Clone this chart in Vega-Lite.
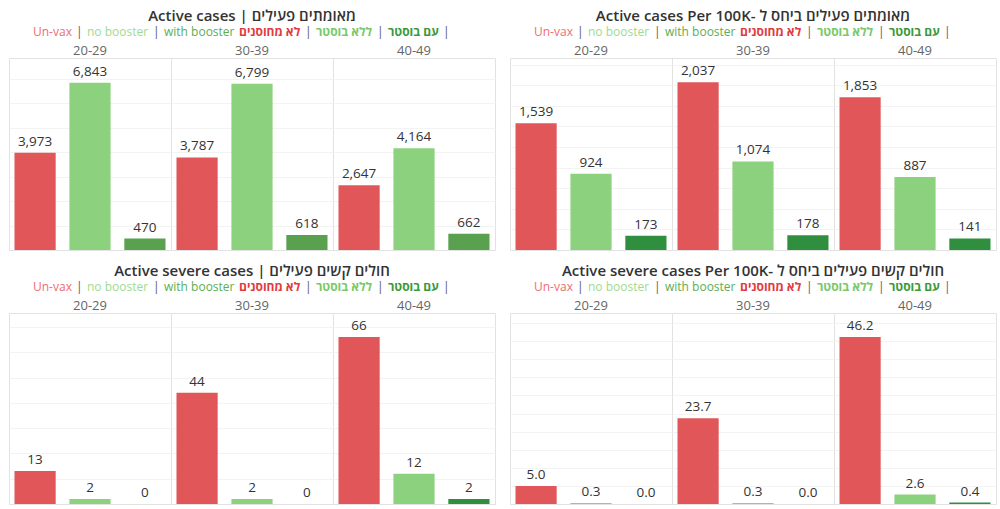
{
  "$schema": "https://vega.github.io/schema/vega-lite/v6.json",
  "padding": {"left": 8, "top": 2, "right": 4, "bottom": 2},
  "background": "white",
  "config": {
    "font": "Open Sans, DejaVu Sans",
    "view": {"stroke": "#e2e2e2", "strokeWidth": 1},
    "facet": {"spacing": 0},
    "axis": {"minExtent": 0, "maxExtent": 0},
    "title": {"fontSize": 15, "fontWeight": 600, "color": "#333333", "offset": -22, "anchor": "middle"},
    "header": {"labelFontSize": 13, "labelColor": "#666666", "labelPadding": 0},
    "legend": {
      "orient": "top", "direction": "horizontal", "title": null, "gridAlign": "none",
      "symbolSize": 0, "symbolStrokeWidth": 0, "symbolOpacity": 0,
      "labelOffset": -12, "columnPadding": 4, "labelFontSize": 12, "padding": 24, "offset": -17,
      "labelLimit": 300
    }
  },
  "datasets": {
    "cases": [
      {"age": "20-29", "cat": "Un-vax", "v": 3973}, {"age": "20-29", "cat": "no booster", "v": 6843}, {"age": "20-29", "cat": "with booster", "v": 470},
      {"age": "30-39", "cat": "Un-vax", "v": 3787}, {"age": "30-39", "cat": "no booster", "v": 6799}, {"age": "30-39", "cat": "with booster", "v": 618},
      {"age": "40-49", "cat": "Un-vax", "v": 2647}, {"age": "40-49", "cat": "no booster", "v": 4164}, {"age": "40-49", "cat": "with booster", "v": 662}
    ],
    "cases100k": [
      {"age": "20-29", "cat": "Un-vax", "v": 1539}, {"age": "20-29", "cat": "no booster", "v": 924}, {"age": "20-29", "cat": "with booster", "v": 173},
      {"age": "30-39", "cat": "Un-vax", "v": 2037}, {"age": "30-39", "cat": "no booster", "v": 1074}, {"age": "30-39", "cat": "with booster", "v": 178},
      {"age": "40-49", "cat": "Un-vax", "v": 1853}, {"age": "40-49", "cat": "no booster", "v": 887}, {"age": "40-49", "cat": "with booster", "v": 141}
    ],
    "severe": [
      {"age": "20-29", "cat": "Un-vax", "v": 13}, {"age": "20-29", "cat": "no booster", "v": 2}, {"age": "20-29", "cat": "with booster", "v": 0},
      {"age": "30-39", "cat": "Un-vax", "v": 44}, {"age": "30-39", "cat": "no booster", "v": 2}, {"age": "30-39", "cat": "with booster", "v": 0},
      {"age": "40-49", "cat": "Un-vax", "v": 66}, {"age": "40-49", "cat": "no booster", "v": 12}, {"age": "40-49", "cat": "with booster", "v": 2}
    ],
    "severe100k": [
      {"age": "20-29", "cat": "Un-vax", "v": 5.0}, {"age": "20-29", "cat": "no booster", "v": 0.3}, {"age": "20-29", "cat": "with booster", "v": 0.0},
      {"age": "30-39", "cat": "Un-vax", "v": 23.7}, {"age": "30-39", "cat": "no booster", "v": 0.3}, {"age": "30-39", "cat": "with booster", "v": 0.0},
      {"age": "40-49", "cat": "Un-vax", "v": 46.2}, {"age": "40-49", "cat": "no booster", "v": 2.6}, {"age": "40-49", "cat": "with booster", "v": 0.4}
    ]
  },
  "spacing": 6,
  "resolve": {"scale": {"color": "independent", "y": "independent"}, "legend": {"color": "independent"}},
  "vconcat": [
    {
      "spacing": 13,
      "resolve": {"scale": {"color": "independent", "y": "independent"}, "legend": {"color": "independent"}},
      "hconcat": [
        {
          "title": {"text": "Active cases | מאומתים פעילים"},
          "data": {"name": "cases"},
          "facet": {"column": {"field": "age", "type": "ordinal", "header": {"title": null, "labelOrient": "top"}}},
          "spacing": 0, "bounds": "flush",
          "spec": {
            "width": 162, "height": 192,
            "encoding": {
              "x": {"field": "cat", "type": "nominal", "axis": null, "sort": ["Un-vax", "no booster", "with booster"], "scale": {"paddingInner": 0.25, "paddingOuter": 0.1}},
              "y": {"field": "v", "type": "quantitative", "scale": {"domain": [0, 7850], "nice": false}, "axis": {"title": null, "labels": false, "ticks": false, "domain": false, "gridColor": "#f3f3f3", "values": [1000, 2000, 3000, 4000, 5000, 6000, 7000]}}
            },
            "layer": [
              {"mark": {"type": "bar"},
               "encoding": {"color": {"field": "cat", "type": "nominal",
                 "scale": {"domain": ["Un-vax", "s1", "no booster", "s2", "with booster", "לא מחוסנים", "s3", "ללא בוסטר", "s4", "עם בוסטר", "s5"],
                           "range": ["#e15759", "#555555", "#8cd17d", "#555555", "#59a14f", "#e15759", "#555555", "#8cd17d", "#555555", "#3d9a3d", "#555555"]},
                 "legend": {"labelExpr": "test(/^s[0-9]$/, datum.label) ? '|' : datum.label",
                   "encode": {"labels": {"update": {
                     "fill": {"signal": "datum.value === 'Un-vax' ? '#ec6e72' : datum.value === 'no booster' ? '#9edb8f' : datum.value === 'with booster' ? '#5cae52' : datum.value === 'לא מחוסנים' ? '#e03c40' : datum.value === 'ללא בוסטר' ? '#78c96a' : datum.value === 'עם בוסטר' ? '#3a9a3a' : '#555555'"},
                     "fontWeight": {"signal": "test(/[א-ת]/, datum.value) ? 'bold' : 'normal'"}}}}}}}},
              {"mark": {"type": "text", "baseline": "bottom", "dy": -4, "fontSize": 13.5, "color": "#333333"},
               "encoding": {"text": {"field": "v", "type": "quantitative", "format": ","}}}
            ]
          }
        },
        {
          "title": {"text": "Active cases Per 100K- מאומתים פעילים ביחס ל"},
          "data": {"name": "cases100k"},
          "facet": {"column": {"field": "age", "type": "ordinal", "header": {"title": null, "labelOrient": "top"}}},
          "spacing": 0, "bounds": "flush",
          "spec": {
            "width": 162, "height": 192,
            "encoding": {
              "x": {"field": "cat", "type": "nominal", "axis": null, "sort": ["Un-vax", "no booster", "with booster"], "scale": {"paddingInner": 0.25, "paddingOuter": 0.1}},
              "y": {"field": "v", "type": "quantitative", "scale": {"domain": [0, 2330], "nice": false}, "axis": {"title": null, "labels": false, "ticks": false, "domain": false, "gridColor": "#f3f3f3", "values": [250, 500, 750, 1000, 1250, 1500, 1750, 2000, 2250]}}
            },
            "layer": [
              {"mark": {"type": "bar"},
               "encoding": {"color": {"field": "cat", "type": "nominal",
                 "scale": {"domain": ["Un-vax", "s1", "no booster", "s2", "with booster", "לא מחוסנים", "s3", "ללא בוסטר", "s4", "עם בוסטר", "s5"],
                           "range": ["#e15759", "#555555", "#8cd17d", "#555555", "#2f8f3e", "#e15759", "#555555", "#8cd17d", "#555555", "#3d9a3d", "#555555"]},
                 "legend": {"labelExpr": "test(/^s[0-9]$/, datum.label) ? '|' : datum.label",
                   "encode": {"labels": {"update": {
                     "fill": {"signal": "datum.value === 'Un-vax' ? '#ec6e72' : datum.value === 'no booster' ? '#9edb8f' : datum.value === 'with booster' ? '#5cae52' : datum.value === 'לא מחוסנים' ? '#e03c40' : datum.value === 'ללא בוסטר' ? '#78c96a' : datum.value === 'עם בוסטר' ? '#3a9a3a' : '#555555'"},
                     "fontWeight": {"signal": "test(/[א-ת]/, datum.value) ? 'bold' : 'normal'"}}}}}}}},
              {"mark": {"type": "text", "baseline": "bottom", "dy": -4, "fontSize": 13.5, "color": "#333333"},
               "encoding": {"text": {"field": "v", "type": "quantitative", "format": ","}}}
            ]
          }
        }
      ]
    },
    {
      "spacing": 13,
      "resolve": {"scale": {"color": "independent", "y": "independent"}, "legend": {"color": "independent"}},
      "hconcat": [
        {
          "title": {"text": "Active severe cases | חולים קשים פעילים"},
          "data": {"name": "severe"},
          "facet": {"column": {"field": "age", "type": "ordinal", "header": {"title": null, "labelOrient": "top"}}},
          "spacing": 0, "bounds": "flush",
          "spec": {
            "width": 162, "height": 191,
            "encoding": {
              "x": {"field": "cat", "type": "nominal", "axis": null, "sort": ["Un-vax", "no booster", "with booster"], "scale": {"paddingInner": 0.25, "paddingOuter": 0.1}},
              "y": {"field": "v", "type": "quantitative", "scale": {"domain": [0, 75.5], "nice": false}, "axis": {"title": null, "labels": false, "ticks": false, "domain": false, "gridColor": "#f3f3f3", "values": [10, 20, 30, 40, 50, 60, 70]}}
            },
            "layer": [
              {"mark": {"type": "bar"},
               "encoding": {"color": {"field": "cat", "type": "nominal",
                 "scale": {"domain": ["Un-vax", "s1", "no booster", "s2", "with booster", "לא מחוסנים", "s3", "ללא בוסטר", "s4", "עם בוסטר", "s5"],
                           "range": ["#e15759", "#555555", "#8cd17d", "#555555", "#2f8f3e", "#e15759", "#555555", "#8cd17d", "#555555", "#3d9a3d", "#555555"]},
                 "legend": {"labelExpr": "test(/^s[0-9]$/, datum.label) ? '|' : datum.label",
                   "encode": {"labels": {"update": {
                     "fill": {"signal": "datum.value === 'Un-vax' ? '#ec6e72' : datum.value === 'no booster' ? '#9edb8f' : datum.value === 'with booster' ? '#5cae52' : datum.value === 'לא מחוסנים' ? '#e03c40' : datum.value === 'ללא בוסטר' ? '#78c96a' : datum.value === 'עם בוסטר' ? '#3a9a3a' : '#555555'"},
                     "fontWeight": {"signal": "test(/[א-ת]/, datum.value) ? 'bold' : 'normal'"}}}}}}}},
              {"mark": {"type": "text", "baseline": "bottom", "dy": -4, "fontSize": 13.5, "color": "#333333"},
               "encoding": {"text": {"field": "v", "type": "quantitative", "format": "d"}}}
            ]
          }
        },
        {
          "title": {"text": "Active severe cases Per 100K- חולים קשים פעילים ביחס ל"},
          "data": {"name": "severe100k"},
          "facet": {"column": {"field": "age", "type": "ordinal", "header": {"title": null, "labelOrient": "top"}}},
          "spacing": 0, "bounds": "flush",
          "spec": {
            "width": 162, "height": 191,
            "encoding": {
              "x": {"field": "cat", "type": "nominal", "axis": null, "sort": ["Un-vax", "no booster", "with booster"], "scale": {"paddingInner": 0.25, "paddingOuter": 0.1}},
              "y": {"field": "v", "type": "quantitative", "scale": {"domain": [0, 52.8], "nice": false}, "axis": {"title": null, "labels": false, "ticks": false, "domain": false, "gridColor": "#f3f3f3", "values": [5, 10, 15, 20, 25, 30, 35, 40, 45, 50]}}
            },
            "layer": [
              {"mark": {"type": "bar"},
               "encoding": {"color": {"field": "cat", "type": "nominal",
                 "scale": {"domain": ["Un-vax", "s1", "no booster", "s2", "with booster", "לא מחוסנים", "s3", "ללא בוסטר", "s4", "עם בוסטר", "s5"],
                           "range": ["#e15759", "#555555", "#8cd17d", "#555555", "#2f8f3e", "#e15759", "#555555", "#8cd17d", "#555555", "#3d9a3d", "#555555"]},
                 "legend": {"labelExpr": "test(/^s[0-9]$/, datum.label) ? '|' : datum.label",
                   "encode": {"labels": {"update": {
                     "fill": {"signal": "datum.value === 'Un-vax' ? '#ec6e72' : datum.value === 'no booster' ? '#9edb8f' : datum.value === 'with booster' ? '#5cae52' : datum.value === 'לא מחוסנים' ? '#e03c40' : datum.value === 'ללא בוסטר' ? '#78c96a' : datum.value === 'עם בוסטר' ? '#3a9a3a' : '#555555'"},
                     "fontWeight": {"signal": "test(/[א-ת]/, datum.value) ? 'bold' : 'normal'"}}}}}}}},
              {"mark": {"type": "text", "baseline": "bottom", "dy": -4, "fontSize": 13.5, "color": "#333333"},
               "encoding": {"text": {"field": "v", "type": "quantitative", "format": ".1f"}}}
            ]
          }
        }
      ]
    }
  ]
}
